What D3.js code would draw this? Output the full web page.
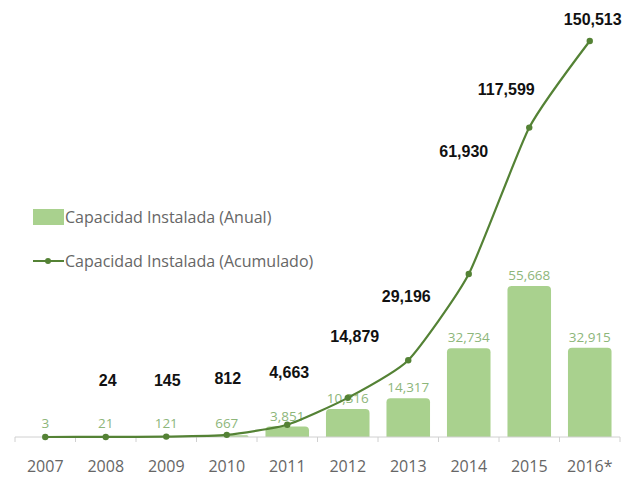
<!DOCTYPE html>
<html>
<head>
<meta charset="utf-8">
<script src="https://cdn.jsdelivr.net/npm/d3@7"></script>
<style>
  body { margin: 0; background: #fff; }
  svg { display: block; }
</style>
</head>
<body>
<div id="chart"></div>
<script>
// data
var years = ["2007", "2008", "2009", "2010", "2011", "2012", "2013", "2014", "2015", "2016*"];
var annual = [3, 21, 121, 667, 3851, 10316, 14317, 32734, 55668, 32915];
var cumulative = [3, 24, 145, 812, 4663, 14879, 29196, 61930, 117599, 150513];

// label nudges for the cumulative numbers (layout only)
var cumLabelDx = [0, 2, 1, 1, 2, 7, -2, -5, -23, 3];
var cumLabelDy = [0, -51, -51, -51, -47, -56, -58, -117, -33, -16];

var width = 641, height = 478;
var baseY = 437;

var svg = d3.select("#chart").append("svg")
    .attr("width", width).attr("height", height);

var x = d3.scaleBand().domain(years).range([15, 620]).paddingInner(0.28).paddingOuter(0.14);
var yBar = d3.scaleLinear().domain([0, 55668]).range([baseY, 286]);
var yLine = d3.scaleLinear().domain([0, 150513]).range([baseY, 41]);
var cx = d => x(d) + x.bandwidth() / 2;

var barColor = "#a9d18e", lineColor = "#548235";

// bars
var r = 4;
svg.append("g").selectAll("path").data(annual).enter().append("path")
    .attr("fill", barColor)
    .attr("d", (d, i) => {
        var x0 = x(years[i]), w = x.bandwidth(), y0 = yBar(d), h = baseY - y0;
        var rr = Math.min(r, h);
        return "M" + x0 + "," + baseY + "V" + (y0 + rr) +
            "Q" + x0 + "," + y0 + " " + (x0 + rr) + "," + y0 +
            "H" + (x0 + w - rr) + "Q" + (x0 + w) + "," + y0 + " " + (x0 + w) + "," + (y0 + rr) +
            "V" + baseY + "Z";
    });

// bar value labels
svg.append("g").selectAll("text").data(annual).enter().append("text")
    .attr("x", (d, i) => cx(years[i]))
    .attr("y", (d, i) => Math.min(yBar(d), 434) - 6)
    .attr("text-anchor", "middle")
    .style("font-family", "'Open Sans', sans-serif")
    .style("font-size", "13.5px")
    .style("fill", "#8db67a")
    .text(d => d3.format(",")(d));

// x axis
var axis = svg.append("g");
axis.append("line").attr("x1", 15).attr("x2", 620).attr("y1", baseY).attr("y2", baseY)
    .attr("stroke", "#d0d0d0").attr("stroke-width", 1);
var bounds = years.map(d => x(d) - x.step() * x.paddingInner() / 2).concat([620]);
bounds[0] = 15;
axis.selectAll(".tick").data(bounds).enter().append("line")
    .attr("x1", d => d).attr("x2", d => d).attr("y1", baseY).attr("y2", baseY + 5)
    .attr("stroke", "#d0d0d0");
axis.selectAll(".lbl").data(years).enter().append("text")
    .attr("x", d => cx(d)).attr("y", 472)
    .attr("text-anchor", "middle")
    .style("font-family", "'Open Sans', sans-serif")
    .style("font-size", "16px")
    .style("fill", "#666")
    .text(d => d);

// cumulative line
var line = d3.line()
    .x((d, i) => cx(years[i]))
    .y(d => yLine(d))
    .curve(d3.curveCardinal.tension(0.45));
svg.append("path").datum(cumulative)
    .attr("fill", "none").attr("stroke", lineColor).attr("stroke-width", 2.2)
    .attr("d", line);
svg.append("g").selectAll("circle").data(cumulative).enter().append("circle")
    .attr("cx", (d, i) => cx(years[i])).attr("cy", d => yLine(d)).attr("r", 3.2)
    .attr("fill", lineColor);

// cumulative labels (first year not labelled)
svg.append("g").selectAll("text").data(cumulative.slice(1)).enter().append("text")
    .attr("x", (d, i) => cx(years[i + 1]) + cumLabelDx[i + 1])
    .attr("y", (d, i) => yLine(d) + cumLabelDy[i + 1])
    .attr("text-anchor", "middle")
    .style("font-family", "'Liberation Sans', Arial, sans-serif")
    .style("font-weight", "bold")
    .style("font-size", "16px")
    .style("fill", "#111")
    .text(d => d3.format(",")(d));

// legend
var legend = svg.append("g");
legend.append("rect").attr("x", 33).attr("y", 209).attr("width", 31).attr("height", 16)
    .attr("fill", barColor);
legend.append("text").attr("x", 65).attr("y", 223).text("Capacidad Instalada (Anual)");
legend.append("line").attr("x1", 33).attr("x2", 64).attr("y1", 261).attr("y2", 261)
    .attr("stroke", lineColor).attr("stroke-width", 2);
legend.append("circle").attr("cx", 48).attr("cy", 261).attr("r", 3).attr("fill", lineColor);
legend.append("text").attr("x", 65).attr("y", 267).text("Capacidad Instalada (Acumulado)");
legend.selectAll("text")
    .style("font-family", "'Open Sans', sans-serif")
    .style("font-size", "16px")
    .style("fill", "#666");
</script>
</body>
</html>
